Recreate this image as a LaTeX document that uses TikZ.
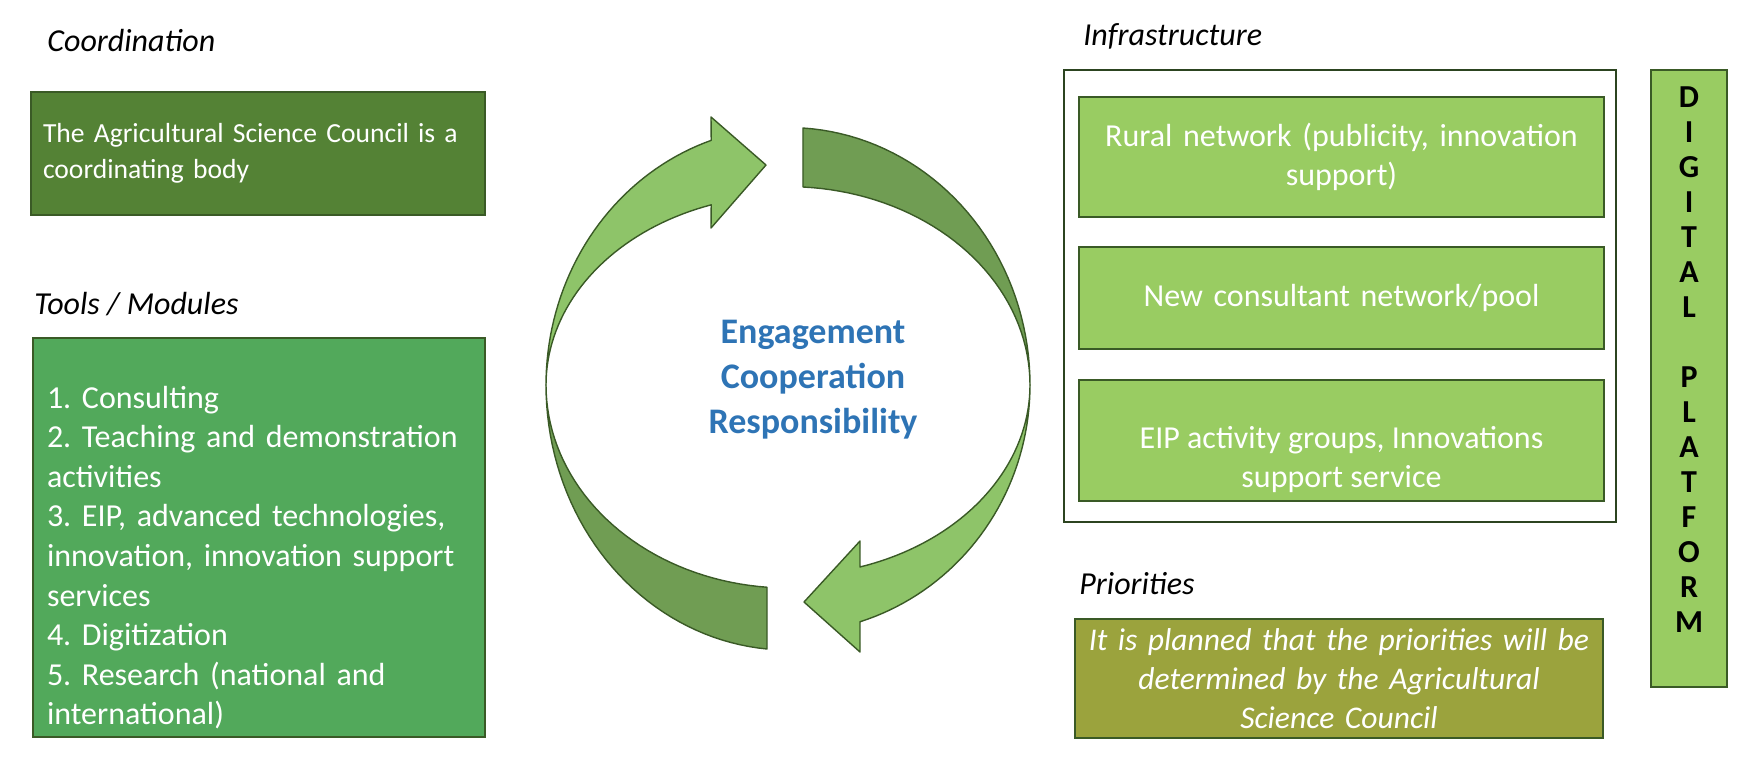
\documentclass[tikz,border=0pt]{standalone}
\usepackage{fontspec}
\setmainfont{Carlito}
\usetikzlibrary{positioning}
\frenchspacing

\definecolor{coordgreen}{HTML}{548235}
\definecolor{toolgreen}{HTML}{52A95B}
\definecolor{lightgreen}{HTML}{99CC62}
\definecolor{olivegreen}{HTML}{9BA33D}
\definecolor{boxline}{HTML}{3A5A26}
\definecolor{framedark}{HTML}{2C4420}
\definecolor{arrowlight}{HTML}{8EC469}
\definecolor{arrowdark}{HTML}{709D53}
\definecolor{valueblue}{HTML}{2E74B5}

\begin{document}
\begin{tikzpicture}[
  x=0.5pt, y=-0.5pt,
  every node/.style={inner sep=0pt},
  heading/.style={anchor=west, font=\fontsize{16}{19.8}\selectfont\itshape},
  greenbox/.style={draw=boxline, line width=0.8pt, inner xsep=6pt, text=white},
  coordbox/.style={greenbox, fill=coordgreen, minimum width=227pt, minimum height=61.5pt, text width=215pt, align=left, font=\fontsize{13.8}{18}\selectfont},
  toolbox/.style={greenbox, fill=toolgreen, minimum width=226pt, minimum height=199.5pt},
  listtext/.style={text=white, text width=212pt, align=left, font=\fontsize{16}{19.8}\selectfont},
  infrabox/.style={greenbox, fill=lightgreen, minimum width=262.5pt, minimum height=#1, text width=250pt, align=center, font=\fontsize{16}{19.5}\selectfont},
  infraframe/.style={draw=framedark, line width=1.3pt, minimum width=276pt, minimum height=226pt},
  platformbox/.style={greenbox, fill=lightgreen, minimum width=38pt, minimum height=308.5pt},
  platformletter/.style={font=\fontsize{16}{16}\selectfont\bfseries},
  prioritybox/.style={greenbox, fill=olivegreen, inner xsep=2pt, minimum width=264pt, minimum height=59.5pt, text width=260pt, align=center, font=\fontsize{15.8}{19.5}\selectfont\itshape},
  valuetext/.style={text=valueblue, align=center, font=\fontsize{18}{22.5}\selectfont\bfseries},
  arrowfront/.style={fill=arrowlight, draw=boxline, line width=0.7pt, line join=round},
  arrowback/.style={fill=arrowdark, draw=boxline, line width=0.7pt, line join=round}
]
\useasboundingbox (0,0) rectangle (1750,762);

% left column
\node[heading] (coordhead) at (47,41) {Coordination};
\node[coordbox] (coord) at (258,153.5) {The Agricultural Science Council is a\\coordinating body};

\node[heading] (toolhead) at (34,304) {Tools / Modules};
\node[toolbox] (tools) at (259,537.5) {};
\node[listtext] (toollist) at (259,557.5) {1. Consulting\\2. Teaching and demonstration\\activities\\3. EIP, advanced technologies,\\innovation, innovation support\\services\\4. Digitization\\5. Research (national and\\international)};

% circular arrows
\draw[arrowback] plot[domain=94.98:180, samples=40] ({788+242*cos(\x)},{385+265*sin(\x)})
  -- plot[domain=180:94.98, samples=40] ({788+242*cos(\x)},{385+203*sin(\x)}) -- cycle;
\draw[arrowfront] plot[domain=180:251.5, samples=40] ({788+242*cos(\x)},{385+258*sin(\x)})
  -- (711,117) -- (766,165) -- (711,228)
  -- plot[domain=251.5:180, samples=40] ({788+242*cos(\x)},{385+190*sin(\x)}) -- cycle;
\draw[arrowback] plot[domain=273.55:360, samples=40] ({788+242*cos(\x)},{385+257.5*sin(\x)})
  -- plot[domain=360:273.55, samples=40] ({788+242*cos(\x)},{385+198.4*sin(\x)}) -- cycle;
\draw[arrowfront] plot[domain=0:72.7, samples=40] ({788+242*cos(\x)},{385+248*sin(\x)})
  -- (860,652) -- (804,602) -- (860,541)
  -- plot[domain=72.7:0, samples=40] ({788+242*cos(\x)},{385+190.6*sin(\x)}) -- cycle;

\node[valuetext] (values) at (813,380) {Engagement\\Cooperation\\Responsibility};

% right column
\node[heading] (infrahead) at (1083,36) {Infrastructure};
\node[infraframe] (infra) at (1340,296) {};
\node[infrabox=60pt] (rural) at (1341.5,157) {Rural network (publicity, innovation\\support)};
\node[infrabox=51pt] (pool) at (1341.5,298) {New consultant network/pool};
\node[infrabox=60.5pt] (eip) at (1341.5,440.5) {};
\node[text=white, align=center, font=\fontsize{16}{19.5}\selectfont] (eiptext) at (1341.5,460) {EIP activity groups, Innovations\\support service};

\node[heading] (priohead) at (1079,584) {Priorities};
\node[prioritybox] (prio) at (1339,678.5) {It is planned that the priorities will be\\determined by the Agricultural\\Science Council};

\node[platformbox] (platform) at (1689,378.5) {};
\foreach \ch/\i in {D/1,I/2,G/3,I/4,T/5,A/6,L/7,P/9,L/10,A/11,T/12,F/13,O/14,R/15,M/16}
  \node[platformletter] (dp\i) at (1689,{97+(\i-1)*35}) {\ch};

\end{tikzpicture}
\end{document}
